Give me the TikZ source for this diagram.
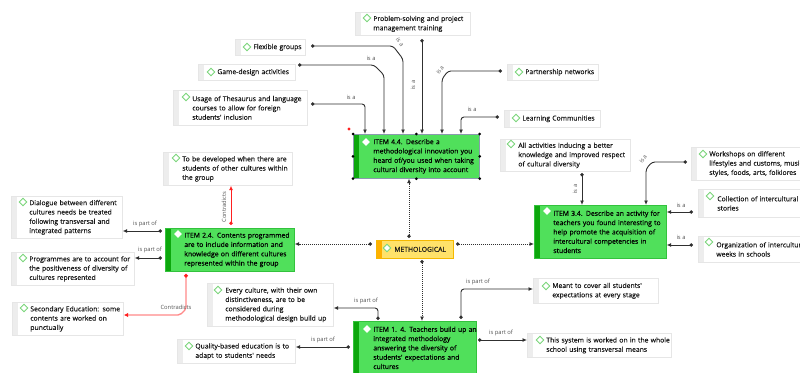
\documentclass[tikz,border=0pt]{standalone}
\usepackage{fontspec}
\newfontfamily\uif{Open Sans}[FakeBold=0.25]
\newfontfamily\uil{Open Sans}
\usetikzlibrary{arrows.meta}
\newcommand\txtf{\uif\fontsize{6.8pt}{9.3pt}\selectfont}
\newcommand\lblf{\uil\fontsize{5.8pt}{7pt}\selectfont}
\definecolor{gfill}{HTML}{50E05B}
\definecolor{gdark}{HTML}{0CA70C}
\definecolor{gborder}{HTML}{33C23D}
\definecolor{yfill}{HTML}{FFE26A}
\definecolor{yborder}{HTML}{F5B800}
\definecolor{ystripe}{HTML}{FFB000}
\definecolor{diag}{HTML}{7AD67A}
\definecolor{stripegray}{HTML}{EDEDED}
\definecolor{bord}{HTML}{E6E6E6}
\definecolor{conn}{HTML}{303030}
\definecolor{lbl}{HTML}{555555}
\definecolor{selb}{HTML}{8A9AAE}
\definecolor{redc}{HTML}{FF2020}
\definecolor{pinkc}{HTML}{FF8A8A}
\tikzset{
  stripe/.style={path picture={\fill[#1] (path picture bounding box.south west) rectangle ([xshift=6pt]path picture bounding box.north west);}},
  box/.style={rectangle, anchor=north west, draw=bord, fill=white, line width=0.7pt, align=left, font=\txtf, text=black!90, inner ysep=0pt, stripe=stripegray},
  item/.style={box, draw=gborder, fill=gfill, text=black, stripe=gdark},
  yel/.style={box, draw=yborder, fill=yfill, text=black!90, stripe=ystripe},
  isa/.style={draw=conn, line width=0.9pt, rounded corners=3pt, {Circle[length=3.4pt]}-{Latex[length=4.5pt,width=4pt]}},
  dotc/.style={isa, dash pattern=on 1pt off 1pt},
  redline/.style={draw=redc, line width=0.9pt, {Circle[length=3.4pt]}-{Latex[length=4.5pt,width=4pt]}},
  pinkline/.style={draw=pinkc, line width=1.4pt, rounded corners=2pt, {Circle[length=3.6pt,color=redc]}-{Latex[length=4.5pt,width=4.5pt,color=redc]}},
  lab/.style={font=\lblf, text=lbl, inner sep=0.5pt},
  gdia/.pic={\draw[diag, line width=0.8pt, fill=white] (0,-3.7)--(3.7,0)--(0,3.7)--(-3.7,0)--cycle;},
  wdia/.pic={\fill[white] (0,-3.9)--(3.9,0)--(0,3.9)--(-3.9,0)--cycle;}
}
\begin{document}
\begin{tikzpicture}[x=1pt,y=-1pt]
\useasboundingbox (0,0) rectangle (800,372);
\fill[white] (0,0) rectangle (800,372);

% ---------- nodes ----------
\node[box, text width=79pt, inner xsep=18pt, minimum height=23pt] (prob) at (355,12) {\mbox{Problem-solving and project}\\\mbox{management training}};
\node[box, text width=34pt, inner xsep=18pt, minimum height=16pt] (flex) at (235,39) {\mbox{Flexible groups}};
\node[box, text width=59pt, inner xsep=19pt, minimum height=16pt] (game) at (198,64) {\mbox{Game-design activities}};
\node[box, text width=96pt, inner xsep=19pt, minimum height=35pt] (usage) at (173,90) {\mbox{Usage of Thesaurus and language}\\\mbox{courses to allow for foreign}\\\mbox{students' inclusion}};
\node[box, text width=55pt, inner xsep=18pt, minimum height=16pt] (partner) at (507,64) {\mbox{Partnership networks}};
\node[box, text width=60pt, inner xsep=18pt, minimum height=17pt] (learn) at (504,110) {\mbox{Learning Communities}};

\node[item, draw=selb, text width=86pt, inner xsep=20pt, minimum height=44pt] (i44) at (353,134) {\mbox{ITEM 4.4. Describe a}\\\mbox{methodological innovation you}\\\mbox{heard of/you used when taking}\\\mbox{cultural diversity into account}};

\node[box, text width=94pt, inner xsep=18pt, minimum height=32pt] (allact) at (500,139) {\mbox{All activities inducing a better}\\\mbox{knowledge and improved respect}\\\mbox{of cultural diversity}};
\node[box, text width=103pt, inner xsep=18pt, minimum height=33pt] (work) at (691,147) {\mbox{Workshops on different}\\\mbox{lifestyles and customs, music}\\\mbox{styles, foods, arts, folklores}};
\node[box, text width=64pt, inner xsep=19pt, minimum height=28pt] (collect) at (698,189) {\mbox{Collection of intercultural}\\\mbox{stories}};
\node[item, text width=94pt, inner xsep=19pt, minimum height=53pt] (i34) at (534,205) {\mbox{ITEM 3.4. Describe an activity for}\\\mbox{teachers you found interesting to}\\\mbox{help promote the acquisition of}\\\mbox{intercultural competencies in}\\\mbox{students}};
\node[box, text width=96pt, inner xsep=18pt, minimum height=26pt] (organ) at (698,236) {\mbox{Organization of intercultural}\\\mbox{weeks in schools}};

\node[box, text width=91pt, inner xsep=19pt, minimum height=33pt] (todev) at (163,152) {\mbox{To be developed when there are}\\\mbox{students of other cultures within}\\\mbox{the group}};
\node[box, text width=75pt, inner xsep=18pt, minimum height=42pt] (dialog) at (11,196) {\mbox{Dialogue between different}\\\mbox{cultures needs be treated}\\\mbox{following transversal and}\\\mbox{integrated patterns}};
\node[item, text width=91pt, inner xsep=19pt, minimum height=43pt] (i24) at (165,228) {\mbox{ITEM 2.4. Contents programmed}\\\mbox{are to include information and}\\\mbox{knowledge on different cultures}\\\mbox{represented within the group}};
\node[box, text width=87pt, inner xsep=18pt, minimum height=33pt] (program) at (11,252) {\mbox{Programmes are to account for}\\\mbox{the positiveness of diversity of}\\\mbox{cultures represented}};
\node[box, text width=75pt, inner xsep=18pt, minimum height=33pt] (second) at (12,302) {\mbox{Secondary Education: some}\\\mbox{contents are worked on}\\\mbox{punctually}};

\node[yel, text width=41pt, inner xsep=18pt, minimum height=18pt] (meth) at (376,240) {\mbox{METHOLOGICAL}};

\node[box, text width=90pt, inner xsep=18pt, minimum height=43pt] (every) at (207,283) {\mbox{Every culture, with their own}\\\mbox{distinctiveness, are to be}\\\mbox{considered during}\\\mbox{methodological design build up}};
\node[box, text width=82pt, inner xsep=18pt, minimum height=24pt] (quality) at (177,339) {\mbox{Quality-based education is to}\\\mbox{adapt to students' needs}};
\node[item, text width=83pt, inner xsep=20pt, minimum height=53pt] (i14) at (353,321) {\mbox{ITEM 1. 4. Teachers build up an}\\\mbox{integrated methodology}\\\mbox{answering the diversity of}\\\mbox{students' expectations and}\\\mbox{cultures}};
\node[box, text width=87pt, inner xsep=19pt, minimum height=25pt] (meant) at (533,278) {\mbox{Meant to cover all students'}\\\mbox{expectations at every stage}};
\node[box, text width=106pt, inner xsep=19pt, minimum height=24pt] (thissys) at (527,333) {\mbox{This system is worked on in the whole}\\\mbox{school using transversal means}};

% ---------- icons ----------
\foreach \p in {(367,18),(247,47),(211,72),(186,97),(519,72),(516,118),(176,158),(23,202),(23,258),(24,308),(218,290),(189,346),(511,144),(703,154),(710,196),(709,242),(546,286),(540,340),(387,248)}
  \pic at \p {gdia};
\foreach \p in {(366,142),(178,234),(547,211),(367,329)}
  \pic at \p {wdia};

% ---------- connector start points ----------
\coordinate (s1) at (422,39);
\coordinate (s2) at (311,46);
\coordinate (s3) at (298,65);
\coordinate (s4) at (311,104);
\coordinate (s5) at (502,71);
\coordinate (s6) at (499,117);
\coordinate (s7) at (582,173);
\coordinate (s8) at (687,162);
\coordinate (s9) at (693,212);
\coordinate (s10) at (693,245);
\coordinate (s11) at (162,231);
\coordinate (s12) at (162,258);
\coordinate (s13) at (231,225);
\coordinate (s14) at (186,274);
\coordinate (s15) at (409,238);
\coordinate (s16) at (372,244);
\coordinate (s17) at (456,244);
\coordinate (s18) at (422,260);
\coordinate (s19) at (378,320);
\coordinate (s20) at (350,347);
\coordinate (s21) at (461,319);
\coordinate (s22) at (478,340);

% ---------- connectors ----------
\draw[isa] (s1) -- (i44.north -| s1);
\draw[isa] (s2) -- (393,46) -- (403,59) -- (i44.north -| 403,0);
\draw[isa] (s3) -- (374,65) -- (384,75) -- (i44.north -| 384,0);
\draw[isa] (s4) -- (365,104) -- (i44.north -| 365,0);
\draw[isa] (s5) -- (448,71) -- (442,79) -- (i44.north -| 442,0);
\draw[isa] (s6) -- (461,117) -- (i44.north -| 461,0);
\draw[isa] (s7) -- (i34.north -| s7);
\draw[isa] (s8) -- (652,162) -- (646,169) -- (i34.north -| 646,0);
\draw[isa] (s9) -- (i34.east |- s9);
\draw[isa] (s10) -- (i34.east |- s10);
\draw[isa] (s11) -- (dialog.east |- s11);
\draw[isa] (s12) -- (program.east |- s12);
\draw[redline] (s13) -- (todev.south -| s13);
\draw[pinkline] (s14) -- (186,309) -- (180,315) -- (second.east |- 0,315);
\draw[dotc] (s15) -- (i44.south -| s15);
\draw[dotc] (s16) -- (i24.east |- s16);
\draw[dotc] (s17) -- (i34.west |- s17);
\draw[dotc] (s18) -- (i14.north -| s18);
\draw[isa] (s19) -- (378,308) -- (every.east |- 0,308);
\draw[isa] (s20) -- (quality.east |- s20);
\draw[isa] (s21) -- (461,289) -- (meant.west |- 0,289);
\draw[isa] (s22) -- (thissys.west |- s22);

% ---------- labels ----------
\node[lab, rotate=90] (l1) at (413,85) {is a};
\node[lab, rotate=-55] (l2) at (400,42) {is a};
\node[lab] (l3) at (371,58) {is a};
\node[lab] (l4) at (351,97) {is a};
\node[lab, rotate=55] (l5) at (440,70) {is a};
\node[lab] (l6) at (472,109) {is a};
\node[lab, rotate=90] (l7) at (575,189) {is a};
\node[lab, rotate=55] (l8) at (643,159) {is a};
\node[lab] (l9) at (681,205) {is a};
\node[lab] (l10) at (681,237) {is a};
\node[lab] (l11) at (145,224) {is part of};
\node[lab] (l12) at (150,250) {is part of};
\node[lab, rotate=90] (l13) at (224,207) {Contradicts};
\node[lab] (l14) at (176,307) {Contradicts};
\node[lab] (l19) at (366,301) {is part of};
\node[lab] (l20) at (323,340) {is part of};
\node[lab] (l21) at (478,282) {is part of};
\node[lab] (l22) at (501,333) {is part of};

% ---------- selection handles ----------
\foreach \a in {north west, north, north east, east, south east, south, south west, west}
  \fill[black] (i44.\a) circle (1.5pt);
\fill[redc] (349,129) circle (1.6pt);
\end{tikzpicture}
\end{document}
